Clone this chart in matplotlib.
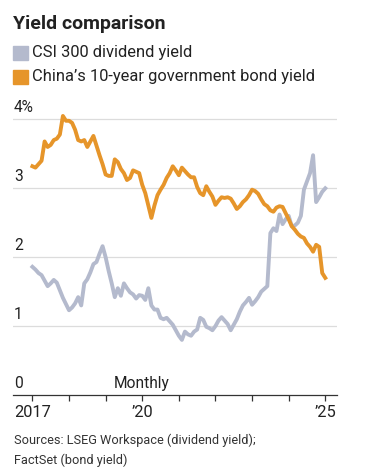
"""WSJ-style yield comparison: CSI 300 dividend yield vs China 10-year bond yield"""

import matplotlib.pyplot as plt
import numpy as np

# monthly values, Jan 2017 to Jan 2025 (percent)
dividend_yield = [
    1.86, 1.82, 1.77, 1.74, 1.66, 1.58, 1.62, 1.67, 1.63, 1.52, 1.41, 1.32,
    1.23, 1.27, 1.33, 1.42, 1.30, 1.62, 1.68, 1.78, 1.90, 1.93, 2.05, 2.16,
    2.00, 1.80, 1.62, 1.42, 1.55, 1.44, 1.62, 1.55, 1.49, 1.46, 1.40, 1.45,
    1.44, 1.38, 1.55, 1.30, 1.24, 1.24, 1.12, 1.10, 1.12, 1.07, 1.02, 0.94,
    0.86, 0.80, 0.92, 0.88, 0.86, 0.92, 0.95, 1.12, 1.09, 0.99, 0.97, 0.94,
    1.00, 1.08, 1.13, 1.08, 1.03, 0.94, 1.02, 1.10, 1.21, 1.30, 1.35, 1.41,
    1.31, 1.36, 1.42, 1.50, 1.54, 1.58, 2.35, 2.42, 2.38, 2.62, 2.48, 2.55,
    2.60, 2.45, 2.46, 2.50, 2.60, 2.98, 3.10, 3.22, 3.48, 2.80, 2.87, 2.95,
    3.00,
]
bond_yield = [
    3.32, 3.30, 3.35, 3.40, 3.68, 3.60, 3.63, 3.70, 3.72, 3.78, 4.05, 3.98,
    3.98, 3.95, 3.85, 3.70, 3.68, 3.70, 3.60, 3.68, 3.76, 3.62, 3.48, 3.35,
    3.20, 3.18, 3.18, 3.42, 3.38, 3.28, 3.22, 3.12, 3.15, 3.26, 3.24, 3.22,
    3.05, 2.93, 2.75, 2.57, 2.75, 2.90, 2.98, 3.05, 3.15, 3.22, 3.32, 3.26,
    3.19, 3.30, 3.25, 3.20, 3.16, 3.16, 3.02, 2.93, 2.90, 3.03, 2.95, 2.88,
    2.76, 2.82, 2.87, 2.86, 2.87, 2.85, 2.78, 2.70, 2.74, 2.80, 2.84, 2.90,
    2.98, 2.96, 2.92, 2.84, 2.77, 2.74, 2.68, 2.66, 2.72, 2.74, 2.73, 2.64,
    2.55, 2.45, 2.40, 2.34, 2.30, 2.28, 2.20, 2.15, 2.08, 2.18, 2.15, 1.77,
    1.70,
]
year_ticks = [2017, 2018, 2019, 2020, 2021, 2022, 2023, 2024, 2025]
year_labels = ['2017', '', '', '\u201920', '', '', '', '', '\u201925']
y_ticks = [0, 1, 2, 3, 4]
y_labels = ['0', '1', '2', '3', '4%']

GRAY = '#b4bacd'
ORANGE = '#e6952a'
TEXT = '#222222'

plt.rcParams['font.family'] = ['Roboto', 'DejaVu Sans']

fig = plt.figure(figsize=(3.78, 4.75), dpi=100)
ax = fig.add_axes([13 / 378, 80 / 475, 324 / 378, 4.15 * 68.9 / 475])

t = 2017 + np.arange(len(bond_yield)) / 12
ax.plot(t, dividend_yield, color=GRAY, lw=2.8, solid_joinstyle='round', zorder=3)
ax.plot(t, bond_yield, color=ORANGE, lw=2.8, solid_joinstyle='round', zorder=4)

ax.set_xlim(2016.47, 2025.32)
ax.set_ylim(0, 4.15)

# light horizontal gridlines, y labels sit above them inside the plot
for v in y_ticks[1:]:
    ax.axhline(v, color='#dcdcdc', lw=0.9, zorder=1)
ax.set_yticks([])
for v, lab in zip(y_ticks, y_labels):
    ax.text(0.003, v + 0.06, lab, transform=ax.get_yaxis_transform(),
            ha='left', va='bottom', fontsize=11.2, color=TEXT)

ax.set_xticks(year_ticks)
ax.set_xticklabels(year_labels, fontsize=11.8, color=TEXT)
ax.tick_params(axis='x', direction='out', length=4, width=0.9, color='#333333', pad=3)

for side in ['top', 'right', 'left']:
    ax.spines[side].set_visible(False)
ax.spines['bottom'].set_color('#333333')
ax.spines['bottom'].set_linewidth(0.9)

ax.text(2019.23, 0.06, 'Monthly', ha='left', va='bottom', fontsize=11.2, color=TEXT)

# title and legend
fig.text(13 / 378, 1 - 24 / 475, 'Yield comparison', fontsize=14, fontweight='bold',
         color=TEXT, va='center', ha='left')
for yc, col, lab in [(53, GRAY, 'CSI 300 dividend yield'),
                     (77, ORANGE, 'China\u2019s 10-year government bond yield')]:
    fig.patches.append(plt.Rectangle((13 / 378, 1 - (yc + 6.5) / 475), 15 / 378, 13 / 475,
                                     transform=fig.transFigure, color=col))
    fig.text(32 / 378, 1 - yc / 475, lab, fontsize=11.9, color=TEXT, va='center', ha='left')

fig.text(14 / 378, 1 - 440 / 475, 'Sources: LSEG Workspace (dividend yield);',
         fontsize=9.2, color='#333333', va='center', ha='left')
fig.text(14 / 378, 1 - 460 / 475, 'FactSet (bond yield)',
         fontsize=9.2, color='#333333', va='center', ha='left')

fig.savefig('out.png', dpi=100)
